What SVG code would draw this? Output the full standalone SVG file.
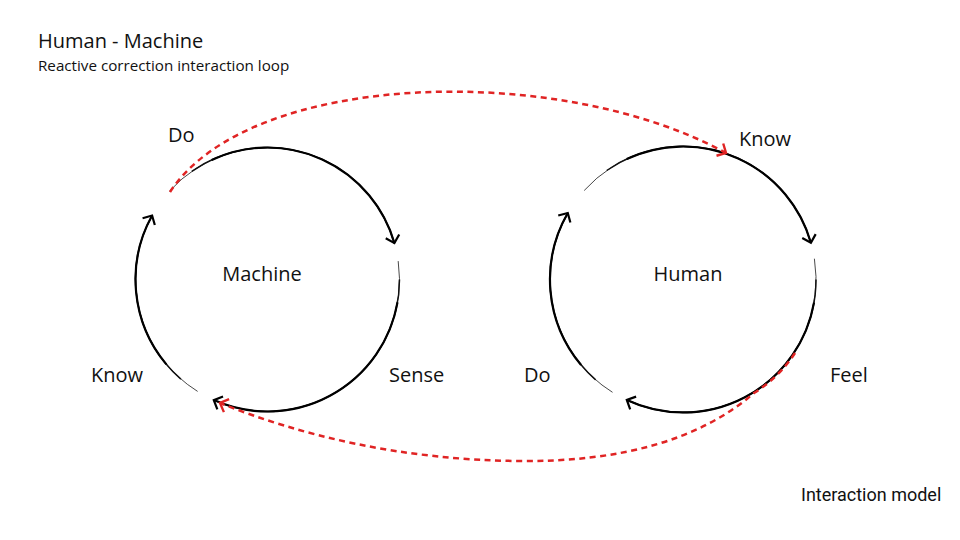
<svg xmlns="http://www.w3.org/2000/svg" width="960" height="540" viewBox="0 0 960 540">
<defs>
<style>
.t{font-family:"Open Sans","Noto Sans",sans-serif;fill:#111}
.lbl{font-size:20px}
.thin{fill:none;stroke:#333;stroke-width:0.9}
.mid{fill:none;stroke:#111;stroke-width:1.5}
.thick{fill:none;stroke:#000;stroke-width:2.2}
.red{fill:none;stroke:#e02424;stroke-width:2.5;stroke-dasharray:6 4.5}
</style>
<marker id="ab" markerUnits="userSpaceOnUse" markerWidth="24" markerHeight="24" viewBox="0 0 24 24" refX="13" refY="12" orient="auto">
<path d="M6,5 L13,12 L6,19" fill="none" stroke="#000" stroke-width="2.2"/>
</marker>
<marker id="ar" markerUnits="userSpaceOnUse" markerWidth="24" markerHeight="24" viewBox="0 0 24 24" refX="13" refY="12" orient="auto">
<path d="M6,5 L13,12 L6,19" fill="none" stroke="#e02424" stroke-width="2.4"/>
</marker>
</defs>
<rect width="960" height="540" fill="#fff"/>
<g id="title">
<text class="t" x="38" y="48" font-size="20">Human - Machine</text>
<text class="t" x="38" y="70.5" font-size="15.2">Reactive correction interaction loop</text>
</g>
<g id="machine">
<path class="thin" d="M169.4,191.2 A132,132 0 0 1 394.4,243.1"/>
<path class="mid" d="M191.8,171.4 A132,132 0 0 1 394.4,243.1"/>
<path class="thick" d="M211.7,159.9 A132,132 0 0 1 394.4,243.1" marker-end="url(#ab)"/>
<path class="thin" d="M398.2,261.1 A132,132 0 0 1 213.8,400.1"/>
<path class="mid" d="M399.5,279.5 A132,132 0 0 1 213.8,400.1"/>
<path class="thick" d="M397.5,302.4 A132,132 0 0 1 213.8,400.1" marker-end="url(#ab)"/>
<path class="thin" d="M197.6,391.4 A132,132 0 0 1 152.1,215.5"/>
<path class="mid" d="M180.9,379.1 A132,132 0 0 1 152.1,215.5"/>
<path class="thick" d="M166.4,364.4 A132,132 0 0 1 152.1,215.5" marker-end="url(#ab)"/>
<text class="t lbl" x="262" y="281" text-anchor="middle">Machine</text>
<text class="t lbl" x="168" y="142">Do</text>
<text class="t lbl" x="389" y="382">Sense</text>
<text class="t lbl" x="91" y="382">Know</text>
</g>
<g id="human">
<path class="thin" d="M584.2,190.5 A133,133 0 0 1 810.9,242.8"/>
<path class="mid" d="M606.7,170.5 A133,133 0 0 1 810.9,242.8"/>
<path class="thick" d="M626.8,159 A133,133 0 0 1 810.9,242.8" marker-end="url(#ab)"/>
<path class="thin" d="M814.4,258.7 A133,133 0 0 1 626.8,400"/>
<path class="mid" d="M816,279.5 A133,133 0 0 1 626.8,400"/>
<path class="thick" d="M814,302.6 A133,133 0 0 1 626.8,400" marker-end="url(#ab)"/>
<path class="thin" d="M612.5,392.3 A133,133 0 0 1 567.8,213"/>
<path class="mid" d="M595.7,379.9 A133,133 0 0 1 567.8,213"/>
<path class="thick" d="M581.1,365 A133,133 0 0 1 567.8,213" marker-end="url(#ab)"/>
<text class="t lbl" x="688" y="281" text-anchor="middle">Human</text>
<text class="t lbl" x="739" y="146">Know</text>
<text class="t lbl" x="830" y="382">Feel</text>
<text class="t lbl" x="524" y="382">Do</text>
</g>
<g id="connectors">
<path class="red" d="M170,192 C250,70 560,62 726,153" marker-end="url(#ar)"/>
<path class="red" d="M795,353 A133,133 0 0 1 754,393 C700,440 620,462 520,461 C400,460 300,435 220,403" marker-end="url(#ar)"/>
</g>
<text x="801" y="501" font-family="Roboto, sans-serif" font-size="18" fill="#111">Interaction model</text>
</svg>
